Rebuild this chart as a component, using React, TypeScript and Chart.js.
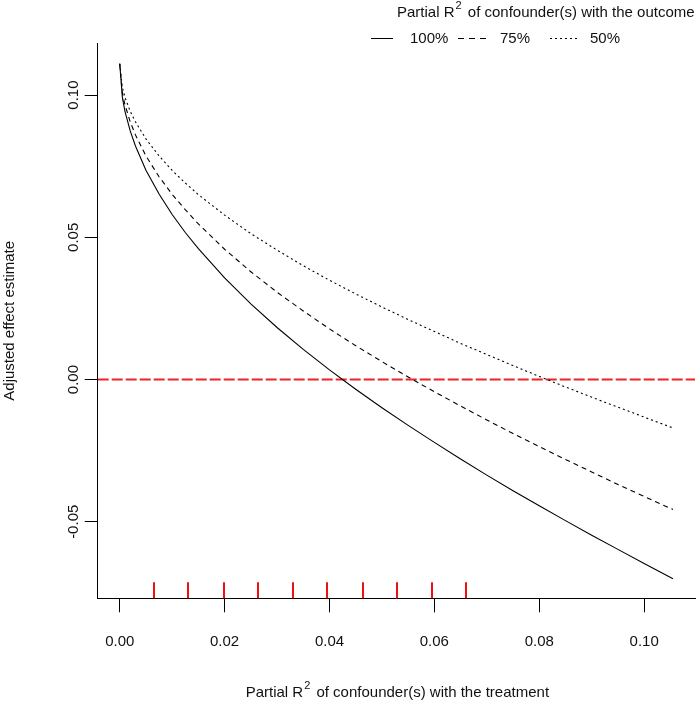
import React, { useEffect, useRef } from "react";
import { Chart, registerables } from "chart.js";

Chart.register(...registerables);

// Partial R2 of confounder(s) with the treatment (x)
const treatmentR2 = [
  0, 0.0005, 0.001, 0.002, 0.003, 0.005, 0.0075, 0.01, 0.0125, 0.015, 0.02, 0.025, 0.03, 0.035,
  0.04, 0.045, 0.05, 0.055, 0.06, 0.065, 0.07, 0.075, 0.08, 0.085, 0.09, 0.095, 0.1, 0.1055,
];
// Adjusted effect estimate, R2 with outcome = 100%
const estimate100 = [
  0.111, 0.0992, 0.0943, 0.0874, 0.0821, 0.0736, 0.0652, 0.058, 0.0517, 0.046, 0.0357, 0.0266,
  0.0183, 0.0106, 0.0034, -0.0034, -0.0099, -0.0161, -0.0221, -0.0279, -0.0336, -0.0391, -0.0444,
  -0.0496, -0.0547, -0.0597, -0.0647, -0.07,
];
// R2 with outcome = 75%
const estimate75 = [
  0.111, 0.1008, 0.0966, 0.0906, 0.086, 0.0786, 0.0713, 0.0651, 0.0597, 0.0547, 0.0458, 0.0379,
  0.0307, 0.0241, 0.0178, 0.0119, 0.0063, 0.0009, -0.0043, -0.0093, -0.0142, -0.019, -0.0236,
  -0.0281, -0.0325, -0.0369, -0.0411, -0.0457,
];
// R2 with outcome = 50%
const estimate50 = [
  0.111, 0.1027, 0.0992, 0.0943, 0.0906, 0.0846, 0.0786, 0.0735, 0.0691, 0.065, 0.0578, 0.0513,
  0.0455, 0.04, 0.0349, 0.0301, 0.0255, 0.0211, 0.0169, 0.0127, 0.0088, 0.0049, 0.0011, -0.0026,
  -0.0062, -0.0097, -0.0132, -0.017,
];
// Benchmark bounds shown as rug marks
const benchmarkR2 = [0.0065, 0.0131, 0.0198, 0.0264, 0.033, 0.0396, 0.0463, 0.0528, 0.0595, 0.0661];
const referenceY = [0, 0];

const xTicks = [0, 0.02, 0.04, 0.06, 0.08, 0.1];
const yTicks = [-0.05, 0, 0.05, 0.1];
const xLimits = [-0.0042, 0.1097];
const yLimits = [-0.0769, 0.1182];
const seriesLabels = ["100%", "75%", "50%"];
const xTitleParts = ["Partial R", "2", " of confounder(s) with the treatment"];
const legendTitleParts = ["Partial R", "2", " of confounder(s) with the outcome"];

const FONT = '"Liberation Sans", Arial, sans-serif';
const TEXT = "#111111";

function drawSupText(ctx: CanvasRenderingContext2D, parts: string[], x: number, y: number, align: "left" | "center") {
  ctx.save();
  ctx.textBaseline = "middle";
  ctx.textAlign = "left";
  const main = `15px ${FONT}`;
  const sup = `11px ${FONT}`;
  ctx.font = main;
  const w0 = ctx.measureText(parts[0]).width;
  const w2 = ctx.measureText(parts[2]).width;
  ctx.font = sup;
  const w1 = ctx.measureText(parts[1]).width + 3;
  const total = w0 + w1 + w2;
  let sx = align === "center" ? x - total / 2 : x;
  ctx.font = main;
  ctx.fillText(parts[0], sx, y);
  ctx.font = sup;
  ctx.fillText(parts[1], sx + w0 + 1, y - 7);
  ctx.font = main;
  ctx.fillText(parts[2], sx + w0 + w1, y);
  ctx.restore();
}

export default function App() {
  const canvasRef = useRef<HTMLCanvasElement | null>(null);

  useEffect(() => {
    const canvas = canvasRef.current;
    if (!canvas) return;

    const toPts = (ys: number[]) => treatmentR2.map((x, i) => ({ x, y: ys[i] }));

    const overlay = {
      id: "overlay",
      afterDraw(chart: any) {
        const { ctx, chartArea, scales } = chart;
        const xs = scales.x;
        const ys = scales.y;
        ctx.save();
        // rug marks
        ctx.strokeStyle = "#ee1111";
        ctx.lineWidth = 2;
        ctx.setLineDash([]);
        benchmarkR2.forEach((v) => {
          const px = Math.round(xs.getPixelForValue(v));
          ctx.beginPath();
          ctx.moveTo(px, chartArea.bottom);
          ctx.lineTo(px, chartArea.bottom - 16);
          ctx.stroke();
        });
        // y tick labels (rotated, as in R)
        ctx.fillStyle = TEXT;
        ctx.font = `15px ${FONT}`;
        ctx.textAlign = "center";
        ctx.textBaseline = "middle";
        ys.ticks.forEach((t: any) => {
          const py = ys.getPixelForValue(t.value);
          ctx.save();
          ctx.translate(74, py);
          ctx.rotate(-Math.PI / 2);
          ctx.fillText(t.value.toFixed(2), 0, 0);
          ctx.restore();
        });
        // x axis title
        drawSupText(ctx, xTitleParts, (chartArea.left + chartArea.right) / 2 + 1, 693, "center");
        // legend
        drawSupText(ctx, legendTitleParts, 397, 13, "left");
        ctx.font = `15px ${FONT}`;
        ctx.textAlign = "left";
        ctx.textBaseline = "middle";
        const items = [
          { x0: 371, x1: 393, tx: 410, dash: [] as number[] },
          { x0: 458, x1: 487, tx: 500, dash: [6, 5] },
          { x0: 550, x1: 577, tx: 590, dash: [2, 3] },
        ];
        items.forEach((it, i) => {
          ctx.strokeStyle = "#000";
          ctx.lineWidth = 1;
          ctx.setLineDash(it.dash);
          ctx.beginPath();
          ctx.moveTo(it.x0, 38.5);
          ctx.lineTo(it.x1, 38.5);
          ctx.stroke();
          ctx.fillText(seriesLabels[i], it.tx, 39);
        });
        ctx.restore();
      },
    };

    const chart = new Chart(canvas, {
      type: "scatter",
      data: {
        datasets: [
          {
            label: seriesLabels[0],
            data: toPts(estimate100),
            showLine: true,
            borderColor: "#000",
            borderWidth: 1.1,
            pointRadius: 0,
          },
          {
            label: seriesLabels[1],
            data: toPts(estimate75),
            showLine: true,
            borderColor: "#000",
            borderWidth: 1.1,
            borderDash: [5, 4],
            pointRadius: 0,
          },
          {
            label: seriesLabels[2],
            data: toPts(estimate50),
            showLine: true,
            borderColor: "#000",
            borderWidth: 1.1,
            borderDash: [2, 3],
            pointRadius: 0,
          },
          {
            label: "zero",
            data: xLimits.map((x, i) => ({ x, y: referenceY[i] })),
            showLine: true,
            borderColor: "rgb(238,35,40)",
            borderWidth: 2,
            borderDash: [11, 3],
            pointRadius: 0,
          },
        ],
      },
      options: {
        animation: false,
        responsive: false,
        devicePixelRatio: 1,
        layout: { padding: { top: 43.3, right: 5, left: 0, bottom: 0 } },
        plugins: { legend: { display: false }, tooltip: { enabled: false } },
        scales: {
          x: {
            type: "linear",
            position: "bottom",
            min: xLimits[0],
            max: xLimits[1],
            afterBuildTicks: (s: any) => {
              s.ticks = xTicks.map((v) => ({ value: v }));
            },
            afterFit: (s: any) => {
              s.height = 703 - 598.3;
            },
            grid: {
              display: true,
              drawOnChartArea: false,
              drawTicks: true,
              tickLength: 14,
              color: "#000",
            },
            border: { display: true, color: "#000", width: 1 },
            ticks: {
              padding: 21,
              color: TEXT,
              font: { family: FONT, size: 15 },
              maxRotation: 0,
              minRotation: 0,
              callback: (v: any) => Number(v).toFixed(2),
            },
          },
          y: {
            type: "linear",
            min: yLimits[0],
            max: yLimits[1],
            afterBuildTicks: (s: any) => {
              s.ticks = yTicks.map((v) => ({ value: v }));
            },
            afterFit: (s: any) => {
              s.width = 97.7;
            },
            grid: {
              display: true,
              drawOnChartArea: false,
              drawTicks: true,
              tickLength: 13,
              color: "#000",
            },
            border: { display: true, color: "#000", width: 1 },
            ticks: { display: false },
            title: {
              display: true,
              text: "Adjusted effect estimate",
              color: TEXT,
              font: { family: FONT, size: 15 },
              padding: { top: 1, bottom: 0 },
            },
          },
        },
      },
      plugins: [overlay],
    });

    return () => chart.destroy();
  }, []);

  return (
    <div style={{ position: "fixed", left: 0, top: 0, width: 700, height: 703, background: "#fff" }}>
      <canvas ref={canvasRef} width={700} height={703} style={{ display: "block", width: 700, height: 703 }} />
    </div>
  );
}
